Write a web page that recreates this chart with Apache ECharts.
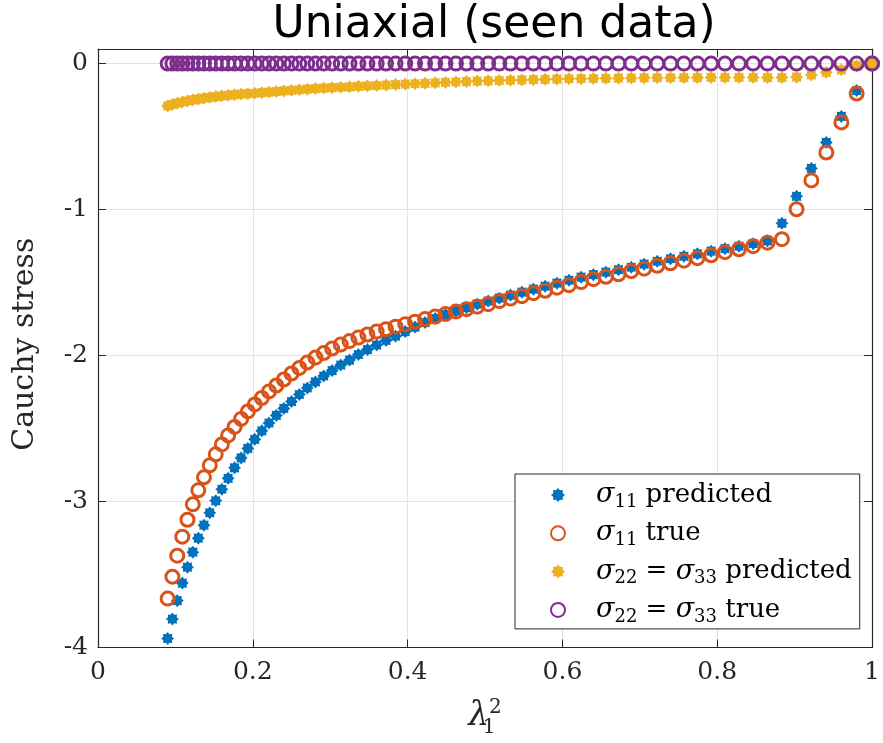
<!DOCTYPE html>
<html>
<head>
<meta charset="utf-8">
<script src="https://cdn.jsdelivr.net/npm/echarts@6/dist/echarts.min.js"></script>
<style>html,body{margin:0;padding:0;background:#fff}#c{width:883px;height:743px}</style>
</head>
<body>
<div id="c"></div>
<script>
// lambda_1^2 values (lambda = 0.30 ... 1.00)
const xVals = [0.0900,0.0961,0.1024,0.1089,0.1156,0.1225,0.1296,0.1369,0.1444,0.1521,
0.1600,0.1681,0.1764,0.1849,0.1936,0.2025,0.2116,0.2209,0.2304,0.2401,
0.2500,0.2601,0.2704,0.2809,0.2916,0.3025,0.3136,0.3249,0.3364,0.3481,
0.3600,0.3721,0.3844,0.3969,0.4096,0.4225,0.4356,0.4489,0.4624,0.4761,
0.4900,0.5041,0.5184,0.5329,0.5476,0.5625,0.5776,0.5929,0.6084,0.6241,
0.6400,0.6561,0.6724,0.6889,0.7056,0.7225,0.7396,0.7569,0.7744,0.7921,
0.8100,0.8281,0.8464,0.8649,0.8836,0.9025,0.9216,0.9409,0.9604,0.9801,1.0000];

const s11Pred = [-3.938,-3.805,-3.679,-3.559,-3.450,-3.347,-3.251,-3.162,-3.077,-2.995,
-2.916,-2.841,-2.769,-2.701,-2.636,-2.574,-2.516,-2.462,-2.410,-2.362,
-2.315,-2.267,-2.222,-2.181,-2.140,-2.103,-2.065,-2.031,-1.993,-1.959,
-1.928,-1.897,-1.867,-1.836,-1.805,-1.774,-1.747,-1.720,-1.696,-1.672,
-1.648,-1.627,-1.607,-1.586,-1.566,-1.545,-1.525,-1.504,-1.484,-1.463,
-1.446,-1.429,-1.412,-1.395,-1.374,-1.354,-1.337,-1.320,-1.303,-1.285,
-1.268,-1.251,-1.234,-1.214,-1.094,-0.909,-0.718,-0.540,-0.362,-0.185,-0.007];

const s11True = [-3.665,-3.515,-3.371,-3.241,-3.125,-3.019,-2.923,-2.834,-2.752,-2.677,
-2.609,-2.547,-2.489,-2.434,-2.383,-2.335,-2.291,-2.246,-2.205,-2.164,
-2.123,-2.085,-2.048,-2.014,-1.983,-1.952,-1.925,-1.901,-1.877,-1.856,
-1.836,-1.819,-1.802,-1.785,-1.768,-1.750,-1.733,-1.716,-1.699,-1.682,
-1.665,-1.648,-1.627,-1.610,-1.593,-1.573,-1.556,-1.535,-1.518,-1.497,
-1.477,-1.460,-1.443,-1.422,-1.405,-1.385,-1.368,-1.350,-1.333,-1.313,
-1.292,-1.272,-1.251,-1.227,-1.203,-0.998,-0.800,-0.609,-0.403,-0.205,0.000];

const s22Pred = [-0.290,-0.280,-0.271,-0.263,-0.256,-0.249,-0.243,-0.237,-0.231,-0.226,
-0.221,-0.217,-0.213,-0.209,-0.206,-0.203,-0.199,-0.195,-0.191,-0.187,
-0.183,-0.179,-0.175,-0.171,-0.168,-0.165,-0.162,-0.159,-0.156,-0.153,
-0.150,-0.147,-0.144,-0.141,-0.138,-0.135,-0.132,-0.129,-0.126,-0.123,
-0.120,-0.118,-0.116,-0.114,-0.112,-0.110,-0.108,-0.106,-0.104,-0.103,
-0.102,-0.101,-0.100,-0.099,-0.098,-0.097,-0.097,-0.096,-0.096,-0.095,
-0.095,-0.095,-0.095,-0.096,-0.096,-0.093,-0.078,-0.060,-0.043,-0.014,0.000];

const s22True = [0,0,0,0,0,0,0,0,0,0, 0,0,0,0,0,0,0,0,0,0, 0,0,0,0,0,0,0,0,0,0,
0,0,0,0,0,0,0,0,0,0, 0,0,0,0,0,0,0,0,0,0, 0,0,0,0,0,0,0,0,0,0, 0,0,0,0,0,0,0,0,0,0,0];

const xTicks = [0, 0.2, 0.4, 0.6, 0.8, 1];
const yTicks = [-4, -3, -2, -1, 0];
const seriesNames = ['s11p', 's11t', 's22p', 's22t'];
const legendLabels = {
  s11p: '{g|}{v|σ}{sub|11}{t| predicted}',
  s11t: '{g|}{v|σ}{sub|11}{t| true}',
  s22p: '{g|}{v|σ}{sub|22}{t| = }{v|σ}{sub|33}{t| predicted}',
  s22t: '{g|}{v|σ}{sub|22}{t| = }{v|σ}{sub|33}{t| true}'
};
const titleText = 'Uniaxial (seen data)';
const yName = 'Cauchy stress';

const colors = ['#0072BD', '#D95319', '#EDB120', '#7E2F8E'];
const serif = '"DejaVu Serif", "Liberation Serif", serif';

// asterisk-like marker
function starPath() {
  let d = '';
  for (let i = 0; i < 16; i++) {
    const a = Math.PI * i / 8;
    const r = (i % 2 === 0) ? 10 : 7.2;
    const x = (r * Math.cos(a)).toFixed(2), y = (r * Math.sin(a)).toFixed(2);
    d += (i === 0 ? 'M' : 'L') + x + ' ' + y + ' ';
  }
  return 'path://' + d + 'Z';
}
const STAR = starPath();

function pairs(ys) { return xVals.map((x, i) => [x, ys[i]]); }

const chart = echarts.init(document.getElementById('c'), null, {renderer: 'canvas'});
const axisCol = '#262626';
chart.setOption({
  animation: false,
  backgroundColor: '#ffffff',
  title: {
    text: titleText, left: 489, top: -1, textAlign: 'center',
    textStyle: {fontFamily: '"DejaVu Sans", sans-serif', fontWeight: 'normal', fontSize: 44, color: '#000'}
  },
  grid: {left: 98, right: 5, top: 49, bottom: 95, show: false},
  legend: {
    orient: 'vertical', left: 515, top: 474,
    backgroundColor: '#fff', borderColor: axisCol, borderWidth: 1,
    padding: [5, 8, 3, 35], itemGap: 6.3, itemWidth: 14, itemHeight: 14,
    data: seriesNames,
    formatter: n => legendLabels[n],
    textStyle: {
      color: '#000',
      rich: {
        g: {width: 26, fontSize: 26, lineHeight: 30},
        v: {fontFamily: serif, fontStyle: 'italic', fontSize: 27, lineHeight: 30, color: '#000'},
        sub: {fontFamily: serif, fontSize: 18, lineHeight: 10, padding: [14, 0, 0, 0], color: '#000'},
        t: {fontFamily: serif, fontSize: 26, lineHeight: 30, color: '#000'}
      }
    }
  },
  xAxis: [{
    type: 'value', min: 0, max: 1, interval: 0.2,
    name: '{l|λ}{s|1}{p|2}', nameLocation: 'middle', nameGap: 52,
    nameTextStyle: {rich: {
      l: {fontFamily: serif, fontStyle: 'italic', fontSize: 33, color: '#262626'},
      s: {fontFamily: serif, fontSize: 20, width: 0.01, padding: [24, 0, 0, 0], lineHeight: 10, color: '#262626'},
      p: {fontFamily: serif, fontSize: 20, padding: [0, 0, 16, 0], lineHeight: 10, color: '#262626'}
    }},
    axisLine: {show: true, onZero: false, lineStyle: {color: axisCol, width: 1.2}},
    axisTick: {show: true, inside: true, length: 8, lineStyle: {color: axisCol}},
    axisLabel: {fontFamily: serif, fontSize: 25, color: axisCol, margin: 12,
      formatter: v => xTicks.includes(+v.toFixed(1)) ? String(+v.toFixed(1)) : ''},
    splitLine: {show: true, lineStyle: {color: '#e3e3e3', width: 1}}
  }, {
    type: 'value', min: 0, max: 1, interval: 0.2, position: 'top',
    axisLine: {show: true, onZero: false, lineStyle: {color: axisCol, width: 1.2}},
    axisTick: {show: true, inside: true, length: 8, lineStyle: {color: axisCol}},
    axisLabel: {show: false}, splitLine: {show: false}
  }],
  yAxis: [{
    type: 'value', min: -4, max: 0.1, interval: 1,
    name: yName, nameLocation: 'middle', nameGap: 58, nameRotate: 90,
    nameTextStyle: {fontFamily: serif, fontSize: 30, color: '#262626', padding: [0, 0, 0, 8]},
    axisLine: {show: true, onZero: false, lineStyle: {color: axisCol, width: 1.2}},
    axisTick: {show: true, inside: true, length: 8, lineStyle: {color: axisCol}},
    axisLabel: {fontFamily: serif, fontSize: 25, color: axisCol, margin: 10, showMaxLabel: false,
      formatter: v => yTicks.includes(Math.round(v)) && Math.abs(v - Math.round(v)) < 1e-6 ? String(Math.round(v)) : ''},
    splitLine: {show: true, lineStyle: {color: '#e3e3e3', width: 1}}
  }, {
    type: 'value', min: -4, max: 0.1, interval: 1, position: 'right',
    axisLine: {show: true, onZero: false, lineStyle: {color: axisCol, width: 1.2}},
    axisTick: {show: true, inside: true, length: 8, lineStyle: {color: axisCol}},
    axisLabel: {show: false}, splitLine: {show: false}
  }],
  series: [
    {name: 's11p', type: 'scatter', data: pairs(s11Pred), symbol: STAR, symbolSize: 13,
     itemStyle: {color: colors[0], opacity: 1}},
    {name: 's11t', type: 'scatter', data: pairs(s11True), symbol: 'circle', symbolSize: 13,
     itemStyle: {color: 'rgba(0,0,0,0)', borderColor: colors[1], borderWidth: 3, opacity: 1}},
    {name: 's22p', type: 'scatter', data: pairs(s22Pred), symbol: STAR, symbolSize: 13,
     itemStyle: {color: colors[2], opacity: 1}},
    {name: 's22t', type: 'scatter', data: pairs(s22True), symbol: 'circle', symbolSize: 13,
     itemStyle: {color: 'rgba(0,0,0,0)', borderColor: colors[3], borderWidth: 3, opacity: 1}}
  ]
});
</script>
</body>
</html>
